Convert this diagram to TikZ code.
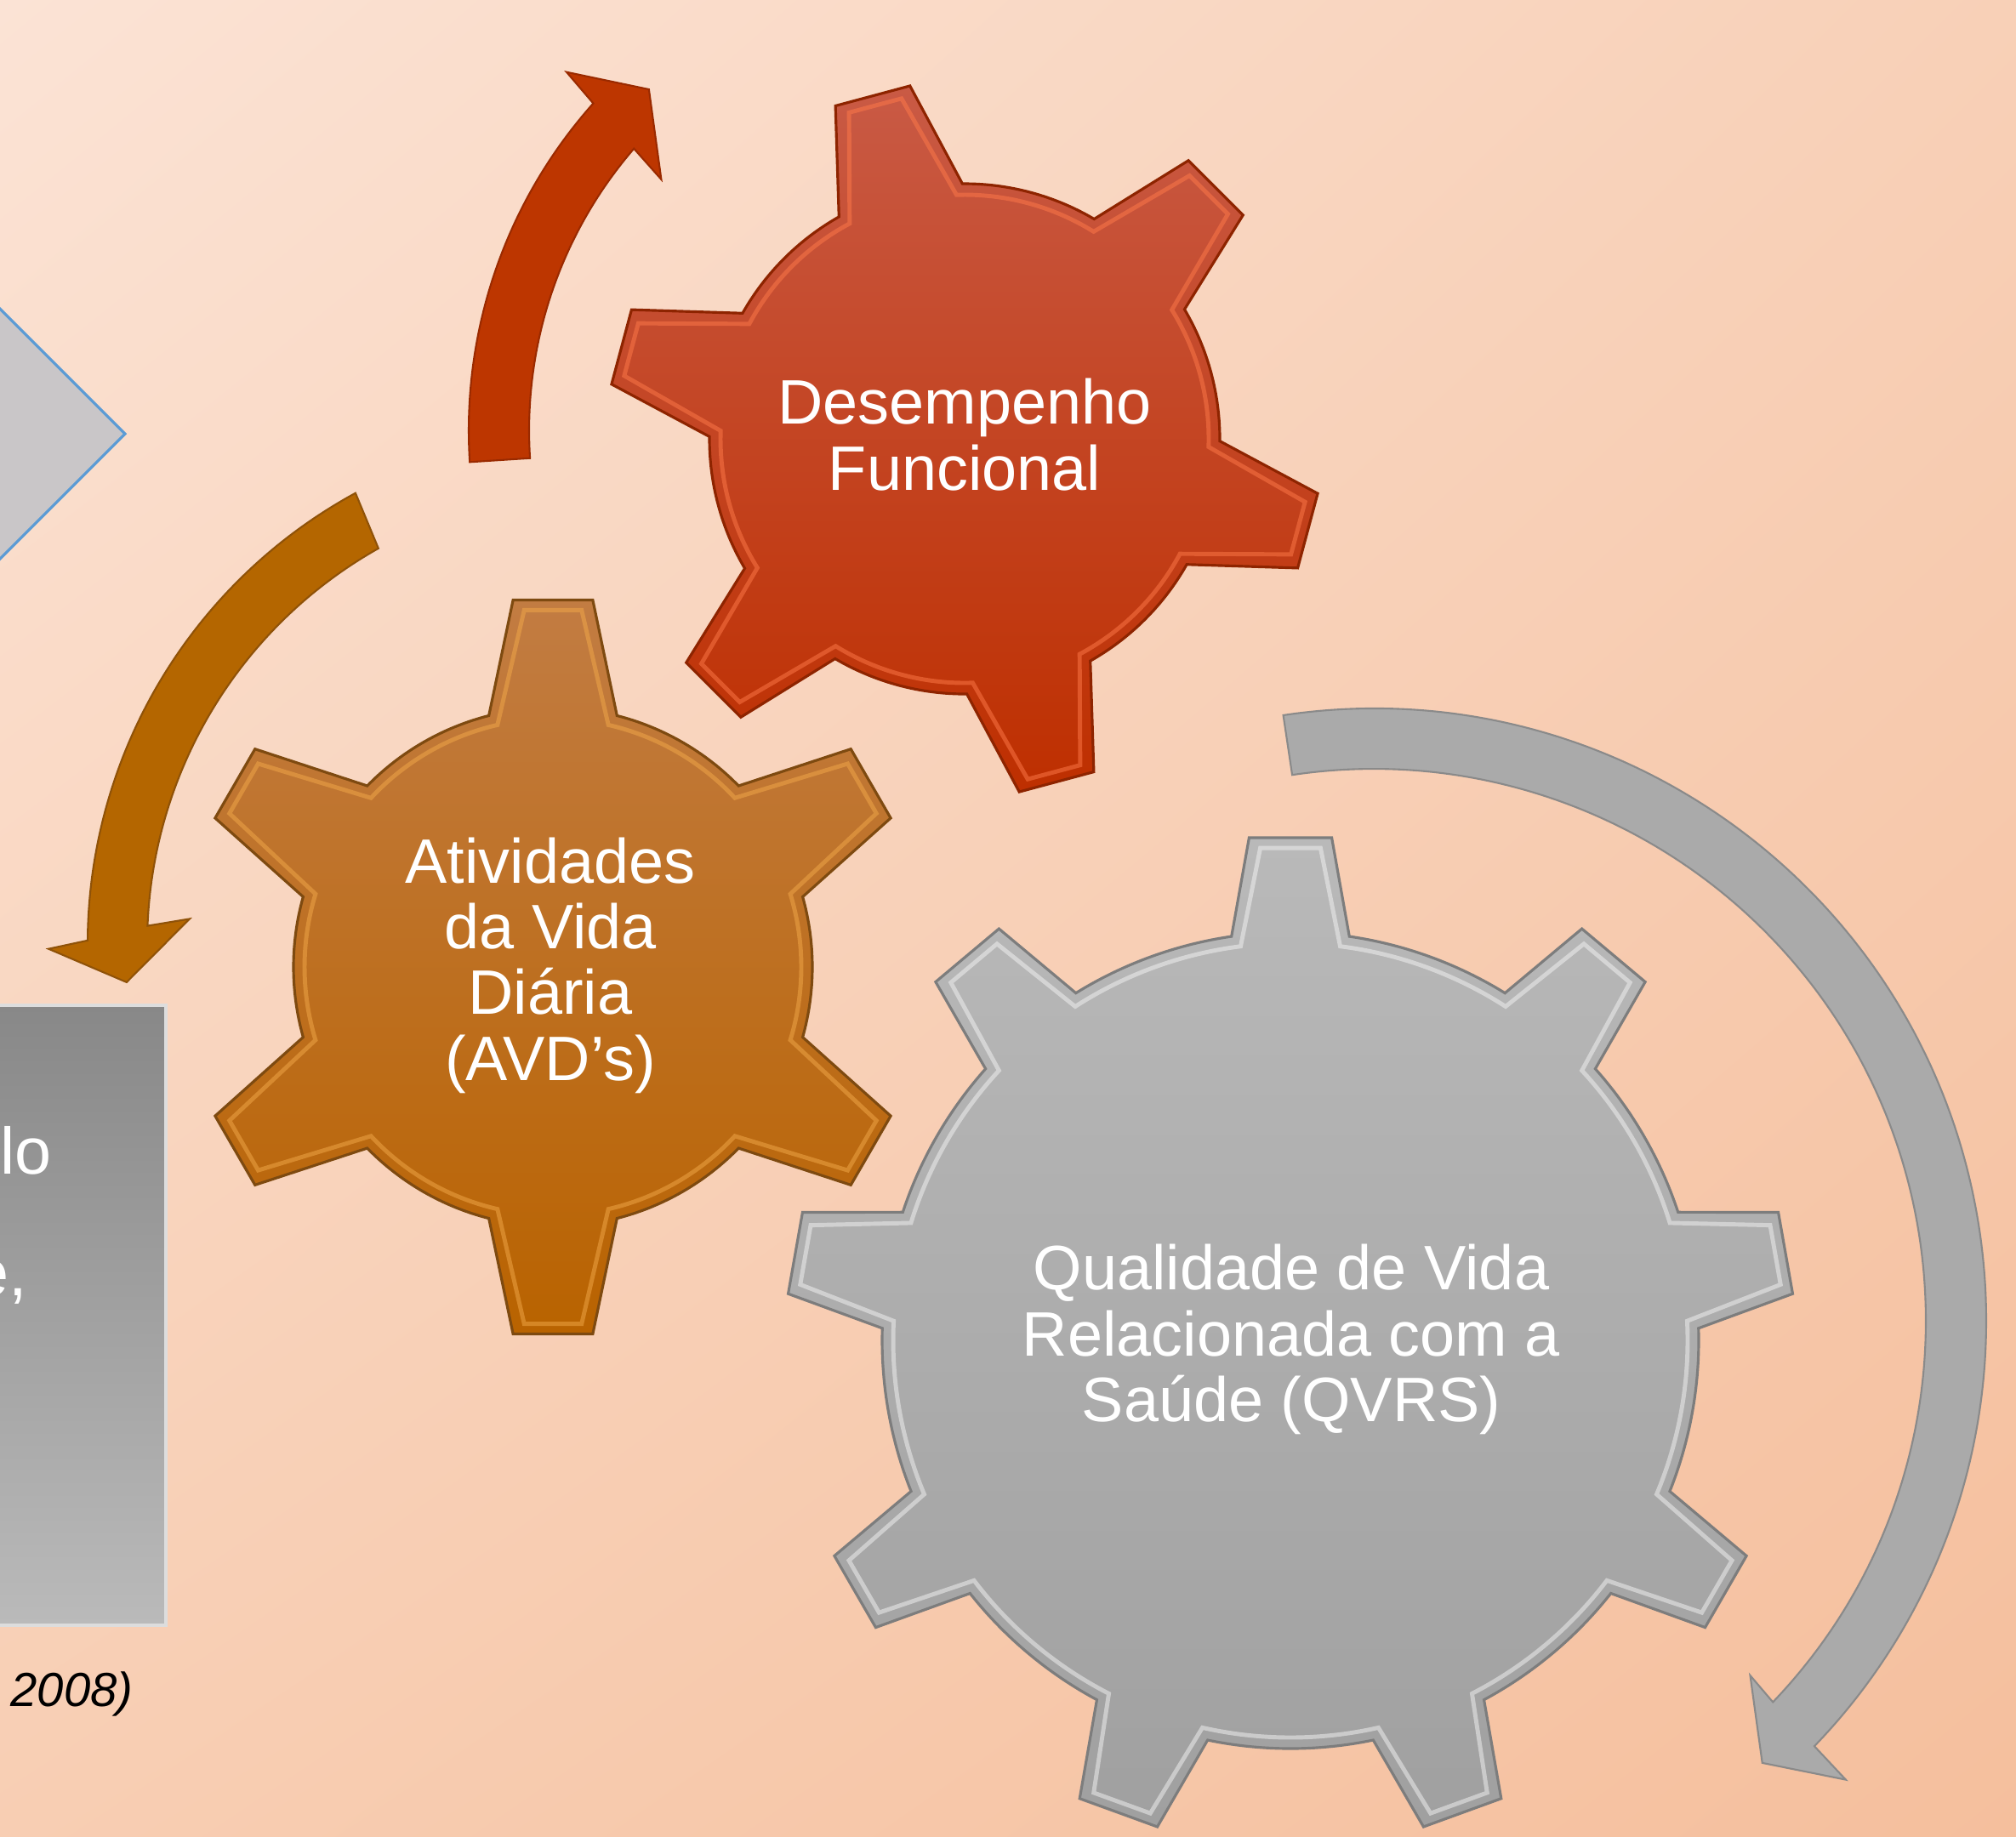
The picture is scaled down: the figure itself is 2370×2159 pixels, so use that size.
\documentclass[tikz,border=0pt]{standalone}
\usepackage{fontspec}
\setmainfont{Liberation Sans}
\usetikzlibrary{shadings}
\definecolor{bgA}{HTML}{FBE3D5}
\definecolor{bgB}{HTML}{F8D0B7}
\definecolor{bgC}{HTML}{F8CEB3}
\definecolor{bgD}{HTML}{F5BF9D}
\definecolor{gRtop}{HTML}{C95A45}
\definecolor{gRbot}{HTML}{BE2F00}
\definecolor{gRedge}{HTML}{8E2400}
\definecolor{gRhi}{HTML}{FF7A4A}
\definecolor{gOtop}{HTML}{C27C42}
\definecolor{gObot}{HTML}{B96300}
\definecolor{gOedge}{HTML}{7E4A10}
\definecolor{gOhi}{HTML}{F2A94A}
\definecolor{gGtop}{HTML}{B9B9B9}
\definecolor{gGbot}{HTML}{A0A0A0}
\definecolor{gGedge}{HTML}{7D7D7D}
\definecolor{gGhi}{HTML}{F4F4F4}
\definecolor{aR}{HTML}{BD3600}
\definecolor{aRe}{HTML}{9A2A00}
\definecolor{aO}{HTML}{B46600}
\definecolor{aOe}{HTML}{8F5208}
\definecolor{aG}{HTML}{AAAAAA}
\definecolor{aGe}{HTML}{8A8A8A}
\definecolor{dia}{HTML}{C9C6C8}
\definecolor{diaE}{HTML}{5B9BD5}
\definecolor{recT}{HTML}{888888}
\definecolor{recB}{HTML}{BABABA}
\definecolor{recE}{HTML}{DDDDDD}
% #1 teeth, #2 first tooth angle, #3 body radius, #4 tip radius, #5 base half angle, #6 tip half angle
\newcommand{\gearpath}[6]{%
  ({#2-#5}:#3)
  \foreach \k in {1,...,#1}{%
    -- ({#2+(\k-1)*360/#1-#6}:#4) -- ({#2+(\k-1)*360/#1+#6}:#4) -- ({#2+(\k-1)*360/#1+#5}:#3)
    arc[start angle={#2+(\k-1)*360/#1+#5}, end angle={#2+\k*360/#1-#5}, radius=#3]
  } -- cycle}
\tikzset{
  gearR/.style={top color=gRtop, bottom color=gRbot, draw=gRedge, line width=0.9pt, line join=miter},
  gearO/.style={top color=gOtop, bottom color=gObot, draw=gOedge, line width=0.9pt, line join=miter},
  gearG/.style={top color=gGtop, bottom color=gGbot, draw=gGedge, line width=0.9pt, line join=miter},
  bevel/.style={draw=#1, line width=1.4pt, opacity=0.5, line join=miter},
  arrowband/.style={fill=#1, line join=miter},
  geartext/.style={text=white, align=center, font=\fontsize{21}{22}\selectfont},
  sidetext/.style={text=white, inner sep=0pt, font=\fontsize{22}{26}\selectfont},
  refnote/.style={text=black, inner sep=0pt, font=\fontsize{16}{19}\selectfont\itshape}
}
\begin{document}
\begin{tikzpicture}[x=0.01cm,y=0.01cm]
\useasboundingbox (0,0) rectangle (2370,-2159);
\clip (0,0) rectangle (2370,-2159);
% background
\shade[upper left=bgA, upper right=bgB, lower left=bgC, lower right=bgD] (0,0) rectangle (2370,-2159);
% left partial diamond
\draw[fill=dia, draw=diaE, line width=0.9pt] (-60,-303) -- (147,-510) -- (-60,-717) -- cycle;
% left partial grey box
\shade[top color=recT, bottom color=recB, draw=recE, line width=1pt] (-20,-1182) rectangle (195,-1911);
\node[sidetext, anchor=base east] (t1) at (61,-1380) {lo};
\node[sidetext, anchor=base east] (t2) at (33,-1523) {e,};
\node[refnote, anchor=base west] (ref) at (12,-2006) {2008)};
% red circular arrow
\begin{scope}[shift={(1129,-506)}]
\path[arrowband=aR, draw=aRe, line width=0.6pt] (183.7:578) arc[start angle=183.7, end angle=138.3, radius=578]
  -- (137.7:626) -- (132.4:543) -- (140:459) -- (139.2:507)
  arc[start angle=139.2, end angle=183.7, radius=507] -- cycle;
\end{scope}
% orange circular arrow
\begin{scope}[shift={(707,-1110)}]
\path[arrowband=aO, draw=aOe, line width=0.6pt] (118.6:604) arc[start angle=118.6, end angle=179.6, radius=604]
  -- (180.5:650) -- (184.6:560) -- (176.5:485) -- (177.7:534)
  arc[start angle=177.7, end angle=119.4, radius=534] -- cycle;
\end{scope}
% grey circular arrow
\begin{scope}[shift={(1615,-1553)}]
\path[arrowband=aG, draw=aGe, line width=0.6pt] (98.5:720) arc[start angle=98.5, end angle=-44, radius=720]
  -- (-44.2:774) -- (-48.7:692) -- (-43.3:608) -- (-43.7:649)
  arc[start angle=-43.7, end angle=98.5, radius=649] -- cycle;
\end{scope}
% red gear
\begin{scope}[shift={(1134,-516)}]
\path[gearR] \gearpath{6}{105}{300}{420}{14.5}{6.2};
\path[bevel=gRhi] \gearpath{6}{105}{287}{407}{13.1}{4.5};
\end{scope}
% orange gear
\begin{scope}[shift={(650,-1137)}]
\path[gearO] \gearpath{6}{90}{305}{434}{14.3}{6.2};
\path[bevel=gOhi] \gearpath{6}{90}{292}{421}{12.9}{4.6};
\end{scope}
% grey gear
\begin{scope}[shift={(1517,-1576)}]
\path[gearG] \gearpath{9}{90}{480}{593}{8.3}{4.7};
\path[bevel=gGhi] \gearpath{9}{90}{467}{580}{7.2}{3.5};
\end{scope}
% gear labels
\node[geartext] (dfun) at (1134,-511) {Desempenho\\Funcional};
\node[geartext] (avd) at (647,-1135) {Atividades\\da Vida\\Diária\\(AVD’s)};
\node[geartext] (qvrs) at (1518,-1575) {Qualidade de Vida\\Relacionada com a\\Saúde (QVRS)};
\end{tikzpicture}
\end{document}
